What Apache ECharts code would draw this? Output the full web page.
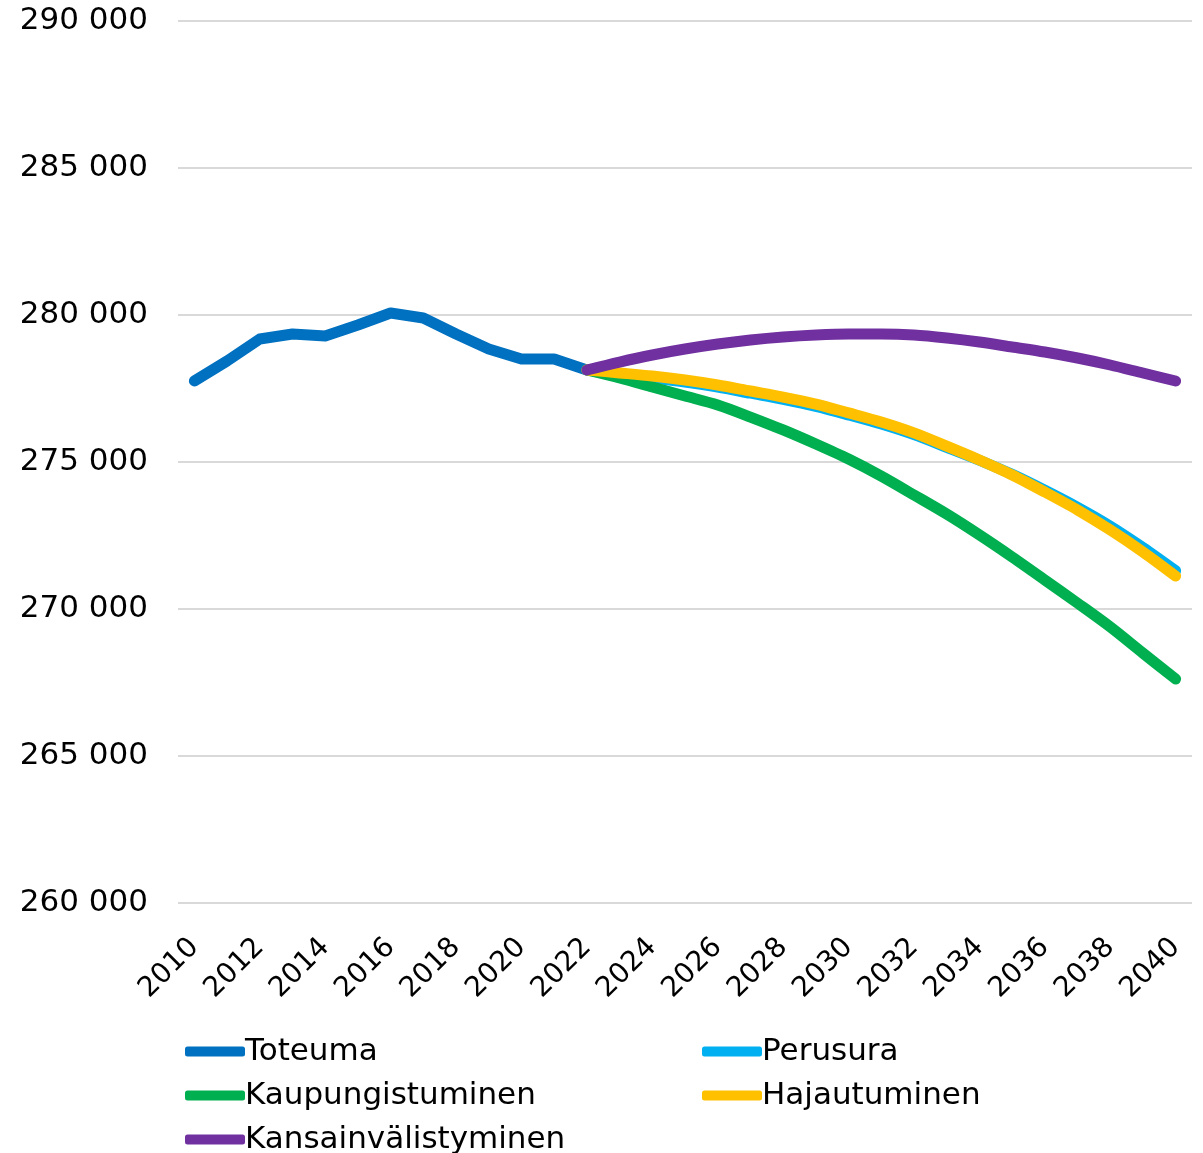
<!DOCTYPE html>
<html><head><meta charset="utf-8">
<script src="https://cdn.jsdelivr.net/npm/echarts@6/dist/echarts.min.js"></script>
<style>html,body{margin:0;padding:0;background:#fff}#c{width:1203px;height:1153px}</style>
</head><body><div id="c"></div>
<script>
var years = [];
for (var y = 2010; y <= 2040; y++) years.push(String(y));
var toteuma = [277755,278435,279184,279354,279286,279660,280068,279898,279354,278843,278503,278503,278130];
var perusura = [278130,277990,277860,277720,277550,277340,277130,276890,276600,276290,275930,275500,275060,274580,274040,273460,272820,272090,271300];
var kaupungistuminen = [278130,277857,277550,277245,276940,276530,276090,275610,275100,274520,273880,273230,272520,271770,270990,270200,269390,268500,267620];
var hajautuminen = [278130,278030,277925,277790,277620,277415,277210,276970,276670,276360,275990,275540,275070,274560,273980,273370,272690,271940,271120];
var kansainvalistyminen = [278130,278400,278640,278843,279014,279150,279252,279320,279354,279354,279320,279218,279082,278912,278741,278537,278299,278027,277755];
var yTicks = [260000,265000,270000,275000,280000,285000,290000];

function pad(arr, before, len) {
  var out = [];
  for (var i = 0; i < before; i++) out.push(null);
  out = out.concat(arr);
  while (out.length < len) out.push(null);
  return out;
}
var N = years.length;
var F = '"DejaVu Sans", sans-serif';
function mk(name, data, color) {
  return {name: name, type: 'line', data: data, symbol: 'none', smooth: 0.3,
    lineStyle: {width: 11, color: color, cap: 'round', join: 'round'}, itemStyle: {color: color}};
}
function lg(name, left, top) {
  return {data: [name], left: left, top: top, icon: 'roundRect', itemWidth: 60, itemHeight: 10,
    textStyle: {fontSize: 31, color: '#000', fontFamily: F, padding: [0,0,0,-5]}};
}
var chart = echarts.init(document.getElementById('c'));
chart.setOption({
  animation: false,
  grid: {left: 178, right: 11, top: 21, bottom: 250},
  xAxis: {type: 'category', data: years, boundaryGap: true,
    axisLine: {show: false}, axisTick: {show: false},
    axisLabel: {interval: 1, rotate: 45, fontSize: 28, color: '#000', fontFamily: F, margin: 40}},
  yAxis: {type: 'value', min: yTicks[0], max: yTicks[yTicks.length-1], interval: 5000,
    axisLine: {show: false}, axisTick: {show: false},
    splitLine: {lineStyle: {color: '#d9d9d9', width: 2}},
    axisLabel: {fontSize: 31, color: '#000', fontFamily: F, margin: 30,
      formatter: function (v) { return String(v).replace(/\B(?=(\d{3})+(?!\d))/g, ' '); }}},
  legend: [
    lg('Toteuma', 180, 1031),
    lg('Kaupungistuminen', 180, 1075),
    lg('Kansainvälistyminen', 180, 1119),
    lg('Perusura', 697, 1031),
    lg('Hajautuminen', 697, 1075)
  ],
  series: [
    {name: 'Toteuma', type: 'line', data: pad(toteuma, 0, N), symbol: 'none',
      lineStyle: {width: 11, color: '#0070C0', cap: 'round', join: 'round'}, itemStyle: {color: '#0070C0'}},
    mk('Perusura', pad(perusura, 12, N), '#00B0F0'),
    mk('Kaupungistuminen', pad(kaupungistuminen, 12, N), '#00B050'),
    mk('Hajautuminen', pad(hajautuminen, 12, N), '#FFC000'),
    mk('Kansainvälistyminen', pad(kansainvalistyminen, 12, N), '#7030A0')
  ]
});
</script></body></html>
